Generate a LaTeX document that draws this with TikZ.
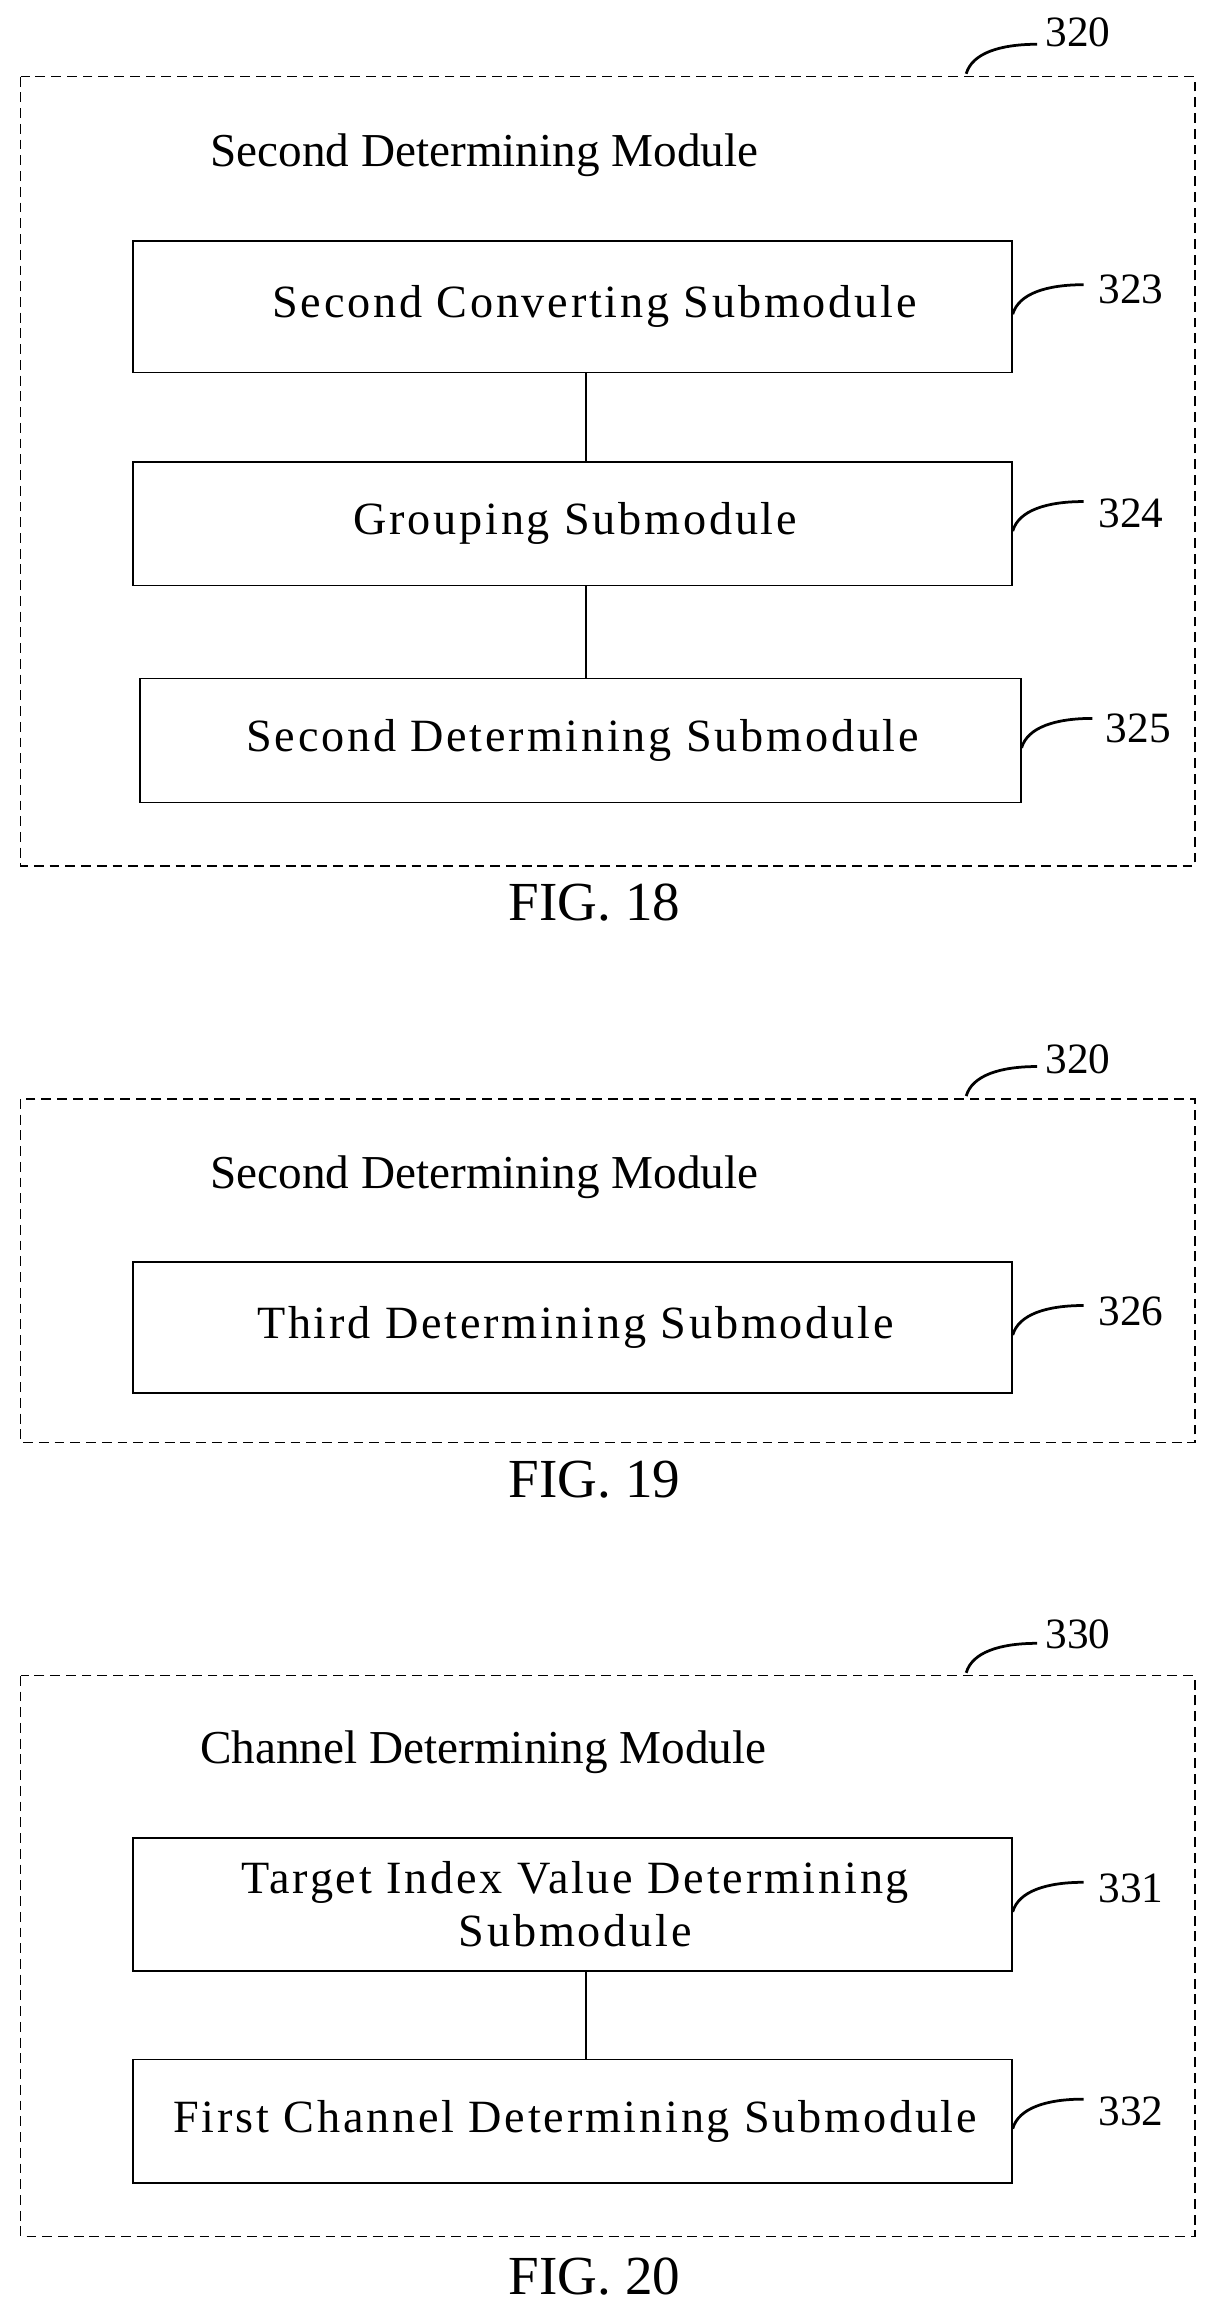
\documentclass[tikz,border=0pt]{standalone}
\usepackage{fontspec}
\setmainfont{Liberation Serif}
\newfontfamily\spaced[LetterSpace=6]{Liberation Serif}
\begin{document}
\begin{tikzpicture}[x=0.75pt,y=-0.75pt,
  frame/.style={draw,dashed,line width=0.7pt,dash pattern=on 5pt off 3pt},
  box/.style={draw,line width=0.8pt},
  txt/.style={font=\spaced\fontsize{23.5}{27}\selectfont,align=center},
  ttl/.style={font=\fontsize{24}{27}\selectfont,anchor=west},
  fig/.style={font=\fontsize{28}{32}\selectfont},
  hook/.style={line width=1.4pt},
  lbl/.style={font=\fontsize{22}{26}\selectfont,anchor=west}]
\useasboundingbox (0,0) rectangle (825,1568);
% FIG 18
\draw[frame] (14,52) rectangle (810,587);
\coordinate (h0) at (655,50);
\draw[hook] (h0) .. controls +(4,-14) and +(-25,0) .. +(48,-20);
\node[lbl] (l320a) at (704,22) {320};
\node[ttl] (t18) at (138,105) {Second Determining Module};
\node[box,minimum width=596pt*0.75,minimum height=89pt*0.75] (b1) at (388,208) {};
\node[txt] (x1) at (403,208) {Second Converting Submodule};
\node[box,minimum width=596pt*0.75,minimum height=84pt*0.75] (b2) at (388,355) {};
\node[txt] (x2) at (390,355) {Grouping Submodule};
\node[box,minimum width=597pt*0.75,minimum height=84pt*0.75] (b3) at (393.5,502) {};
\node[txt] (x3) at (395,502) {Second Determining Submodule};
\draw[line width=1pt] (b1.south -| 397,0) -- (b2.north -| 397,0);
\draw[line width=1pt] (b2.south -| 397,0) -- (b3.north -| 397,0);
\draw[hook] (b1.east) ++(0,5) .. controls +(4,-14) and +(-25,0) .. +(48,-20);
\node[lbl] (l323) at (740,196) {323};
\draw[hook] (b2.east) ++(0,5) .. controls +(4,-14) and +(-25,0) .. +(48,-20);
\node[lbl] (l324) at (740,348) {324};
\draw[hook] (b3.east) ++(0,5) .. controls +(4,-14) and +(-25,0) .. +(48,-20);
\node[lbl] (l325) at (745,494) {325};
\node[fig] (f18) at (403,612) {FIG. 18};
% FIG 19
\draw[frame] (14,745) rectangle (810,978);
\coordinate (h1) at (655,743);
\draw[hook] (h1) .. controls +(4,-14) and +(-25,0) .. +(48,-20);
\node[lbl] (l320b) at (704,718) {320};
\node[ttl] (t19) at (138,798) {Second Determining Module};
\node[box,minimum width=596pt*0.75,minimum height=89pt*0.75] (b4) at (388,900) {};
\node[txt] (x4) at (390,900) {Third Determining Submodule};
\draw[hook] (b4.east) ++(0,5) .. controls +(4,-14) and +(-25,0) .. +(48,-20);
\node[lbl] (l326) at (740,889) {326};
\node[fig] (f19) at (403,1003) {FIG. 19};
% FIG 20
\draw[frame] (14,1136) rectangle (810,1516);
\coordinate (h2) at (655,1134);
\draw[hook] (h2) .. controls +(4,-14) and +(-25,0) .. +(48,-20);
\node[lbl] (l330) at (704,1108) {330};
\node[ttl] (t20) at (131,1188) {Channel Determining Module};
\node[box,minimum width=596pt*0.75,minimum height=90pt*0.75] (b5) at (388,1291) {};
\node[txt] (x5) at (390,1291) {Target Index Value Determining\\Submodule};
\node[box,minimum width=596pt*0.75,minimum height=84pt*0.75] (b6) at (388,1438) {};
\node[txt] (x6) at (390,1438) {First Channel Determining Submodule};
\draw[line width=1pt] (b5.south -| 397,0) -- (b6.north -| 397,0);
\draw[hook] (b5.east) ++(0,5) .. controls +(4,-14) and +(-25,0) .. +(48,-20);
\node[lbl] (l331) at (740,1280) {331};
\draw[hook] (b6.east) ++(0,5) .. controls +(4,-14) and +(-25,0) .. +(48,-20);
\node[lbl] (l332) at (740,1431) {332};
\node[fig] (f20) at (403,1543) {FIG. 20};
\end{tikzpicture}
\end{document}
